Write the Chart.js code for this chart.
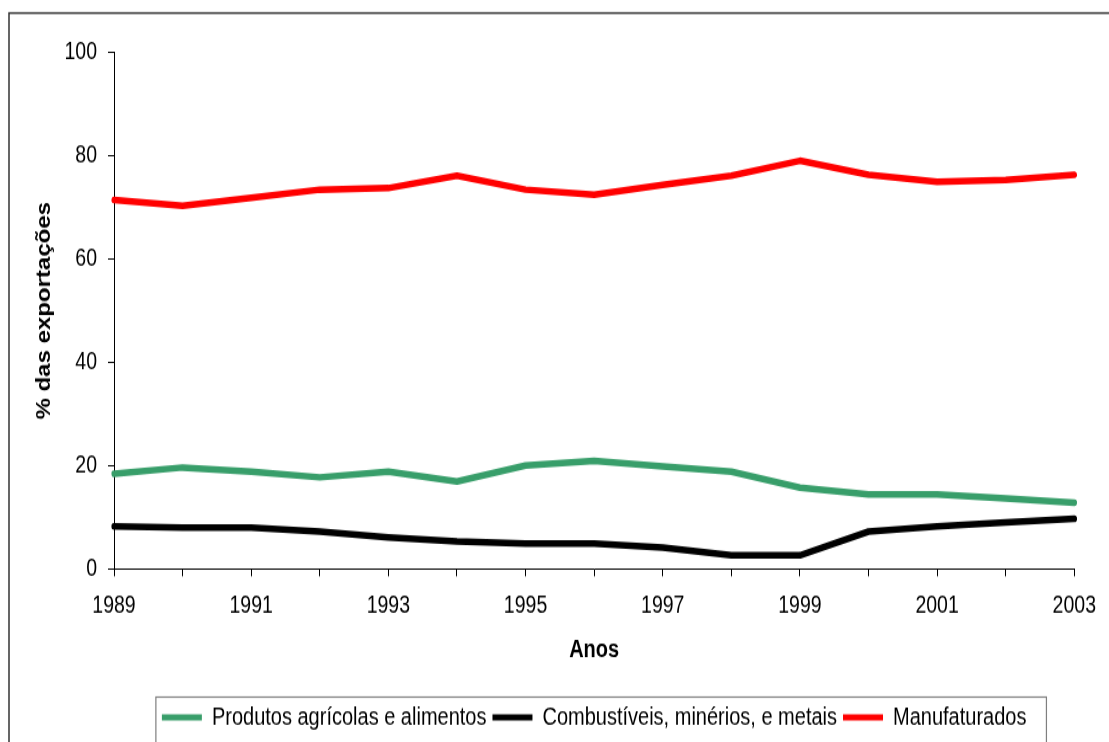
<!DOCTYPE html>
<html>
<head>
<meta charset="utf-8">
<script src="https://cdn.jsdelivr.net/npm/chart.js@4/dist/chart.umd.min.js"></script>
<style>
    html, body { margin: 0; padding: 0; background: #ffffff; }
    #wrap { width: 1109px; height: 742px; }
    /* the reference picture is stretched vertically, so draw at 603px high and stretch */
    #chart { display: block; transform: scaleY(1.2305); transform-origin: 0 0; }
</style>
</head>
<body>
<div id="wrap"><canvas id="chart" width="1109" height="603"></canvas></div>
<script>
    // data
    const years = ['1989', '1990', '1991', '1992', '1993', '1994', '1995', '1996', '1997', '1998', '1999', '2000', '2001', '2002', '2003']
    const agricolas = [18.5, 19.7, 18.9, 17.8, 18.9, 17.0, 20.1, 21.0, 19.9, 18.9, 15.8, 14.5, 14.5, 13.7, 12.9]
    const combustiveis = [8.3, 8.1, 8.1, 7.3, 6.2, 5.4, 5.0, 5.0, 4.2, 2.7, 2.7, 7.3, 8.3, 9.1, 9.8]
    const manufaturados = [71.4, 70.3, 71.8, 73.4, 73.7, 76.1, 73.4, 72.4, 74.3, 76.1, 79.0, 76.3, 74.9, 75.3, 76.3]
    const seriesNames = ['Produtos agrícolas e alimentos', 'Combustíveis, minérios, e metais', 'Manufaturados']
    const yMin = 0
    const yMax = 100
    const yStep = 20

    const family = `'Liberation Sans', Arial, sans-serif`

    // outer chart frame and the box around the legend
    const frames = {
        id: 'frames',
        afterDraw(chart) {
            const ctx = chart.ctx
            ctx.save()
            ctx.strokeStyle = '#333333'
            ctx.lineWidth = 1.5
            ctx.strokeRect(9, 10.6, chart.width + 20, chart.height + 20)
            const boxes = chart.legend.legendHitBoxes
            if (boxes && boxes.length) {
                const last = boxes[boxes.length - 1]
                const l = boxes[0].left - 6
                const r = last.left + last.width + 20
                ctx.strokeStyle = '#7f7f7f'
                ctx.lineWidth = 1.2
                ctx.strokeRect(l, chart.legend.top - 0.5, r - l, chart.height)
            }
            ctx.restore()
        }
    }

    const line = (label, data, color) => ({
        label, data,
        borderColor: color, backgroundColor: color,
        borderWidth: 5.5, tension: 0, pointRadius: 0, borderCapStyle: 'round', borderJoinStyle: 'round'
    })

    new Chart(document.getElementById('chart'), {
        type: 'line',
        data: {
            labels: years,
            datasets: [
                line(seriesNames[0], agricolas, '#389e6a'),
                line(seriesNames[1], combustiveis, '#000000'),
                line(seriesNames[2], manufaturados, '#ff0000')
            ]
        },
        options: {
            responsive: false,
            animation: false,
            devicePixelRatio: 1,
            layout: { padding: { left: 20, top: 42.3, right: 5, bottom: 0 } },
            plugins: {
                tooltip: { enabled: false },
                legend: {
                    position: 'bottom',
                    fullSize: false,
                    labels: {
                        boxWidth: 40, boxHeight: 5, padding: 6, color: '#000000',
                        font: { family, size: 20 },
                        generateLabels(chart) {
                            return Chart.defaults.plugins.legend.labels.generateLabels(chart).map(l => ({ ...l, lineWidth: 0 }))
                        }
                    }
                }
            },
            scales: {
                x: {
                    offset: false,
                    grid: { drawOnChartArea: false, drawTicks: true, tickLength: 5.7, color: '#000000' },
                    border: { color: '#000000', width: 1 },
                    ticks: {
                        autoSkip: false, maxRotation: 0, padding: 13, color: '#000000',
                        font: { family, size: 19.5 },
                        callback(v, i) { return i % 2 === 0 ? this.getLabelForValue(v) : '' }
                    },
                    title: {
                        display: true, text: 'Anos', color: '#000000',
                        font: { family, size: 20, weight: 'bold' },
                        padding: { top: 10, bottom: 26.4 }
                    },
                    afterFit(scale) { scale.height = 104.3 }
                },
                y: {
                    min: yMin, max: yMax,
                    grid: { drawOnChartArea: false, drawTicks: true, tickLength: 6, color: '#000000' },
                    border: { color: '#000000', width: 1 },
                    ticks: { stepSize: yStep, padding: 11, color: '#000000', font: { family, size: 19.5 } },
                    title: {
                        display: true, text: '% das exportações', color: '#000000',
                        font: { family, size: 19.5, weight: 'bold' },
                        padding: { top: 13, bottom: 0 }
                    },
                    afterFit(scale) { scale.width = 94 }
                }
            }
        },
        plugins: [frames]
    })
</script>
</body>
</html>
